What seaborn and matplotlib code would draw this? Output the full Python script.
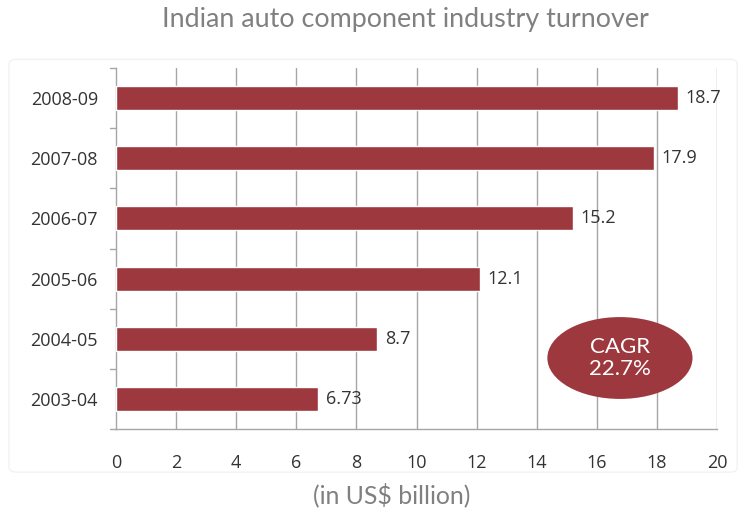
import matplotlib
matplotlib.use("Agg")
import matplotlib.pyplot as plt
from matplotlib.patches import Ellipse, FancyBboxPatch
import seaborn as sns
import pandas as pd

years = ["2008-09", "2007-08", "2006-07", "2005-06", "2004-05", "2003-04"]
turnover = [18.7, 17.9, 15.2, 12.1, 8.7, 6.73]
value_labels = ["18.7", "17.9", "15.2", "12.1", "8.7", "6.73"]
x_ticks = [0, 2, 4, 6, 8, 10, 12, 14, 16, 18, 20]

bar_color = "#9C383E"
grid_color = "#A6A6A6"
text_color = "#333333"
title_color = "#808080"

sns.set_theme(style="white")
plt.rcParams["font.family"] = ["Open Sans", "DejaVu Sans"]

df = pd.DataFrame({"year": years, "turnover": turnover})

fig = plt.figure(figsize=(7.47, 5.16), dpi=100)
fig.patch.set_facecolor("white")

# faint chart frame
frame = FancyBboxPatch((0.012, 0.085), 0.975, 0.8, boxstyle="round,pad=0,rounding_size=0.01",
                       transform=fig.transFigure, facecolor="none", edgecolor="#F2F2F2",
                       linewidth=1.0, zorder=0)
fig.patches.append(frame)

ax = fig.add_axes([116 / 747, 1 - 429 / 516, 601 / 747, 361 / 516])
ax.set_facecolor("none")

sns.barplot(data=df, x="turnover", y="year", order=years, color=bar_color,
            width=0.4, saturation=1, ax=ax, zorder=3)

ax.set_xlim(0, 20)
ax.set_ylim(len(years) - 0.5, -0.5)
ax.set_xticks(x_ticks)
ax.set_xticklabels([str(t) for t in x_ticks], fontsize=13, color=text_color)
ax.tick_params(axis="x", length=6, width=1, color=grid_color, pad=12, direction="out")
ax.tick_params(axis="y", length=0, pad=13, labelsize=13, labelcolor=text_color)
ax.set_xlabel("")
ax.set_ylabel("")

# vertical gridlines
for t in x_ticks[1:]:
    ax.axvline(t, color=grid_color, linewidth=1, zorder=1)

# left axis with ticks at category boundaries
for s in ["top", "right"]:
    ax.spines[s].set_visible(False)
ax.spines["left"].set_color(grid_color)
ax.spines["bottom"].set_color(grid_color)
ax.spines["left"].set_linewidth(1)
ax.spines["bottom"].set_linewidth(1)
for b in [i - 0.5 for i in range(len(years))]:
    ax.plot([-0.2, 0], [b, b], color=grid_color, linewidth=1, clip_on=False, zorder=2)
ax.plot([-0.2, 0], [len(years) - 0.5] * 2, color=grid_color, linewidth=1, clip_on=False)

# value labels
for i, (v, lab) in enumerate(zip(turnover, value_labels)):
    ax.text(v + 0.25, i, lab, va="center", ha="left", fontsize=13, color=text_color, zorder=4)

# CAGR badge
ell = Ellipse((16.77, 4.32), 4.83, 1.36, facecolor=bar_color, edgecolor="none", zorder=5)
ax.add_patch(ell)
ax.text(16.77, 4.32, "CAGR\n22.7%", ha="center", va="center", color="white",
        fontsize=16, family=["Lato", "DejaVu Sans"], linespacing=1.1, zorder=6)

fig.text(405 / 747, 1 - 20 / 516, "Indian auto component industry turnover", ha="center",
         va="center", fontsize=19.4, color=title_color, family=["Lato", "DejaVu Sans"])
fig.text(392 / 747, 1 - 495 / 516, "(in US$ billion)", ha="center", va="center",
         fontsize=17.9, color=title_color, family=["Lato", "DejaVu Sans"])

fig.savefig("out.png", dpi=100, facecolor="white")
